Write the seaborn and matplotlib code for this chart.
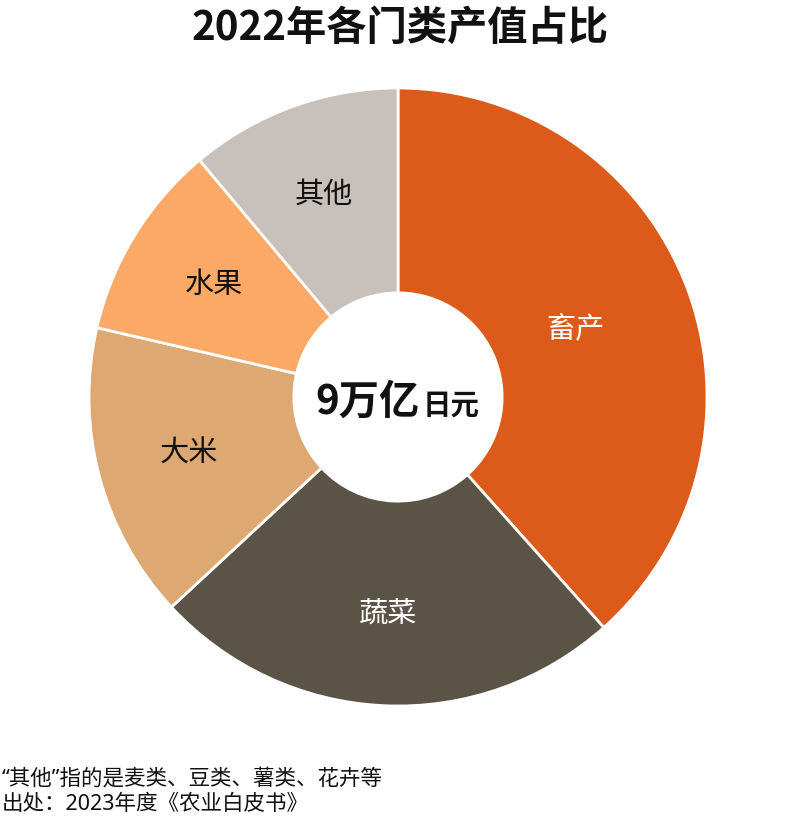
import matplotlib
matplotlib.use("Agg")
import matplotlib.pyplot as plt
import seaborn as sns
import numpy as np

categories = ["畜产", "蔬菜", "大米", "水果", "其他"]
shares = [38.4, 24.7, 15.5, 10.3, 11.1]
colors = ["#DC5A1A", "#5B5345", "#DEA872", "#FCA866", "#C8C0BA"]
label_colors = ["white", "white", "#111111", "#111111", "#111111"]
title = "2022年各门类产值占比"
center_big = "9万亿"
center_small = "日元"
notes = ["“其他”指的是麦类、豆类、薯类、花卉等", "出处：2023年度《农业白皮书》"]

sns.set_theme(style="white")
plt.rcParams['font.family'] = ['Noto Sans CJK SC', 'DejaVu Sans']

W, H = 800, 828
fig = plt.figure(figsize=(W / 100, H / 100), dpi=100)
fig.patch.set_facecolor("white")

cx, cy, R = 398, 398, 309
ax = fig.add_axes([(cx - R) / W, (H - cy - R) / H, 2 * R / W, 2 * R / H])
palette = sns.color_palette(colors)
wedges, texts = ax.pie(
    shares, labels=categories, colors=palette, startangle=90, counterclock=False,
    radius=1.0, labeldistance=0.70,
    wedgeprops=dict(width=0.663, edgecolor="white", linewidth=2),
    textprops=dict(fontsize=21, color="#111111", ha="center", va="center", fontweight="medium"),
)
label_r = {"畜产": 0.615}
for w, t, c in zip(wedges, texts, label_colors):
    name = t.get_text()
    if name in label_r:
        ang = np.deg2rad((w.theta1 + w.theta2) / 2)
        t.set_position((label_r[name] * np.cos(ang), label_r[name] * np.sin(ang)))
    t.set_ha("center")
    t.set_va("center")
    t.set_color(c)
ax.set_xlim(-1, 1)
ax.set_ylim(-1, 1)
ax.axis("off")

fig.text(400 / W, 1 - 28 / H, title, ha="center", va="center", fontsize=29, fontweight="bold", color="#111111")

fig.text(420 / W, 1 - 414 / H, center_big, ha="right", va="baseline", fontsize=29, fontweight="bold", color="#111111")
fig.text(423 / W, 1 - 414 / H, center_small, ha="left", va="baseline", fontsize=20.5, fontweight="bold", color="#111111")

note_font = ['Noto Sans', 'Noto Sans CJK SC', 'DejaVu Sans']
fig.text(2 / W, 1 - 779 / H, notes[0], ha="left", va="center", fontsize=15.5, color="#111111", family=note_font)
fig.text(2 / W, 1 - 805 / H, notes[1], ha="left", va="center", fontsize=15.5, color="#111111", family=note_font)

fig.savefig("out.png", dpi=100, facecolor="white")
